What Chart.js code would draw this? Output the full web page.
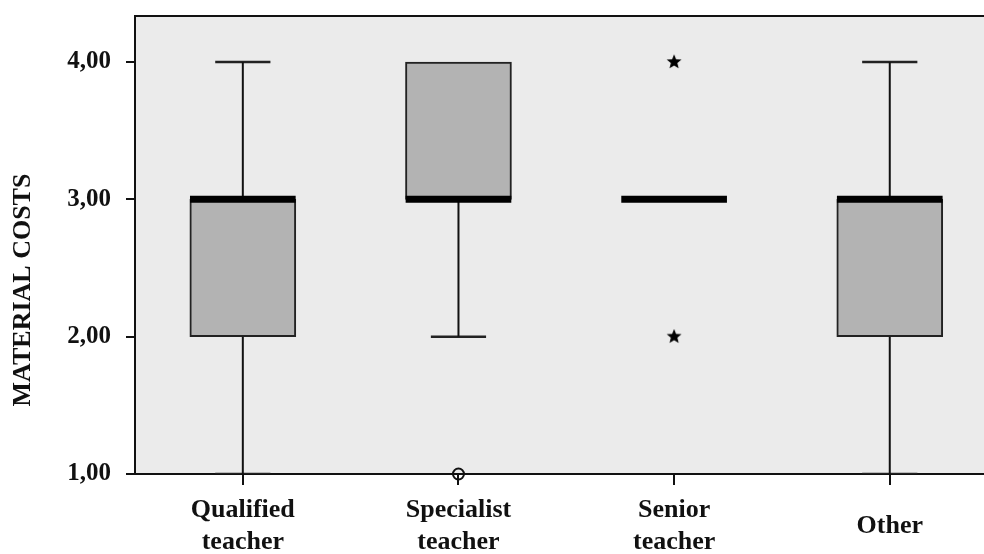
<!DOCTYPE html>
<html>
<head>
<meta charset="utf-8">
<script src="https://cdn.jsdelivr.net/npm/chart.js@4/dist/chart.umd.min.js"></script>
<style>
  html, body { margin: 0; padding: 0; background: #fff; }
  #wrap { width: 984px; height: 554px; }
</style>
</head>
<body>
<div id="wrap"><canvas id="boxChart" width="984" height="554"></canvas></div>
<script>
// box plot summaries
const categories = [['Qualified', 'teacher'], ['Specialist', 'teacher'], ['Senior', 'teacher'], 'Other'];
const whiskerLow = [1, 2, 3, 1];
const q1 = [2, 3, 3, 2];
const medians = [3, 3, 3, 3];
const q3 = [3, 4, 3, 3];
const whiskerHigh = [4, 4, 3, 4];
const outlierCat = [2];
const outlierVal = [1];
const extremeCat = [3, 3];
const extremeVal = [4, 2];
const yTicks = [1, 2, 3, 4];

const FONT = "'Liberation Serif', 'DejaVu Serif', serif";
const BOX_HALF = 0.245;
const CAP_HALF = 0.128;

// helpers to build line segments separated by gaps
function segments(list) {
  const out = [];
  list.forEach(([x1, y1, x2, y2]) => {
    out.push({ x: x1, y: y1 }, { x: x2, y: y2 }, { x: x2, y: null });
  });
  return out;
}

const whiskerSegs = [];
const capSegs = [];
const medianSegs = [];
categories.forEach((c, i) => {
  const x = i + 1;
  if (whiskerLow[i] < q1[i]) {
    whiskerSegs.push([x, whiskerLow[i], x, q1[i]]);
    capSegs.push([x - CAP_HALF, whiskerLow[i], x + CAP_HALF, whiskerLow[i]]);
  }
  if (whiskerHigh[i] > q3[i]) {
    whiskerSegs.push([x, q3[i], x, whiskerHigh[i]]);
    capSegs.push([x - CAP_HALF, whiskerHigh[i], x + CAP_HALF, whiskerHigh[i]]);
  }
  medianSegs.push([x - BOX_HALF, medians[i], x + BOX_HALF, medians[i]]);
});

const boxData = categories
  .map((c, i) => ({ x: i + 1, y: [q1[i], q3[i]] }))
  .filter(d => d.y[0] !== d.y[1]);

// filled star marker for extreme values
const starImg = document.createElement('canvas');
starImg.width = 16; starImg.height = 16;
(function () {
  const g = starImg.getContext('2d');
  g.beginPath();
  for (let k = 0; k < 10; k++) {
    const r = k % 2 === 0 ? 7.8 : 3.4;
    const a = -Math.PI / 2 + k * Math.PI / 5;
    const px = 8 + r * Math.cos(a), py = 8 + r * Math.sin(a);
    k === 0 ? g.moveTo(px, py) : g.lineTo(px, py);
  }
  g.closePath();
  g.fillStyle = '#000';
  g.fill();
})();

const plotFrame = {
  id: 'plotFrame',
  beforeDraw(chart) {
    const { ctx, chartArea: a } = chart;
    ctx.save();
    ctx.fillStyle = '#ebebeb';
    ctx.fillRect(a.left, a.top, a.right - a.left, a.bottom - a.top);
    ctx.restore();
  },
  afterDraw(chart) {
    const { ctx, chartArea: a } = chart;
    ctx.save();
    ctx.strokeStyle = '#111';
    ctx.lineWidth = 2;
    ctx.beginPath();
    ctx.moveTo(a.left - 1, a.top);
    ctx.lineTo(a.right, a.top);
    ctx.stroke();
    // y axis title
    ctx.translate(23, 290);
    ctx.rotate(-Math.PI / 2);
    ctx.fillStyle = '#111';
    ctx.font = 'bold 26px ' + FONT;
    ctx.textAlign = 'center';
    ctx.textBaseline = 'middle';
    ctx.fillText('MATERIAL COSTS', 0, 0);
    ctx.restore();
  }
};

new Chart(document.getElementById('boxChart'), {
  type: 'bar',
  data: {
    datasets: [
      {
        type: 'line', label: 'median', data: segments(medianSegs), order: 0,
        borderColor: '#000', borderWidth: 7, borderCapStyle: 'butt', pointRadius: 0, clip: false
      },
      {
        type: 'scatter', label: 'extremes', order: 1, clip: false,
        data: extremeCat.map((c, i) => ({ x: c, y: extremeVal[i] })),
        pointStyle: starImg
      },
      {
        type: 'scatter', label: 'outliers', order: 1, clip: false,
        data: outlierCat.map((c, i) => ({ x: c, y: outlierVal[i] })),
        pointStyle: 'circle', pointRadius: 5.5, borderColor: '#111', borderWidth: 2,
        backgroundColor: 'rgba(0,0,0,0)'
      },
      {
        type: 'line', label: 'whiskers', data: segments(whiskerSegs), order: 2,
        borderColor: '#111', borderWidth: 2, pointRadius: 0
      },
      {
        type: 'line', label: 'caps', data: segments(capSegs), order: 2,
        borderColor: '#222', borderWidth: 2.5, borderCapStyle: 'butt', pointRadius: 0
      },
      {
        type: 'bar', label: 'box', data: boxData, order: 3,
        backgroundColor: '#b3b3b3', borderColor: '#222', borderWidth: 2,
        borderSkipped: false, barThickness: 106
      }
    ]
  },
  options: {
    responsive: false,
    animation: false,
    layout: { autoPadding: false, padding: { top: 16, right: 0, left: 0, bottom: 0 } },
    plugins: { legend: { display: false }, tooltip: { enabled: false } },
    scales: {
      x: {
        type: 'linear',
        min: 0.5,
        max: 4.437,
        offset: false,
        afterFit(scale) {
          scale.height = 80;
          scale.paddingLeft = 0; scale.paddingRight = 0;
        },
        afterBuildTicks(scale) { scale.ticks = [1, 2, 3, 4].map(v => ({ value: v })); },
        grid: { display: true, drawOnChartArea: false, offset: false, tickLength: 11, color: '#111', lineWidth: 2 },
        border: { display: true, color: '#111', width: 2 },
        ticks: {
          padding: 25,
          crossAlign: 'center',
          maxRotation: 0,
          autoSkip: false,
          color: '#111',
          font: { family: FONT, size: 26, weight: 'bold', lineHeight: 1.24 },
          callback: v => categories[v - 1]
        }
      },
      y: {
        type: 'linear',
        min: 1,
        max: 4.335,
        afterFit(scale) {
          scale.width = 135;
          scale.paddingTop = 0; scale.paddingBottom = 0;
        },
        afterBuildTicks(scale) { scale.ticks = yTicks.map(v => ({ value: v })); },
        grid: { display: true, drawOnChartArea: false, tickLength: 9, color: '#111', lineWidth: 2 },
        border: { display: true, color: '#111', width: 2 },
        ticks: {
          padding: 15,
          color: '#111',
          font: { family: FONT, size: 25, weight: 'bold' },
          callback: v => v.toFixed(2).replace('.', ',')
        }
      }
    }
  },
  plugins: [plotFrame]
});
</script>
</body>
</html>
